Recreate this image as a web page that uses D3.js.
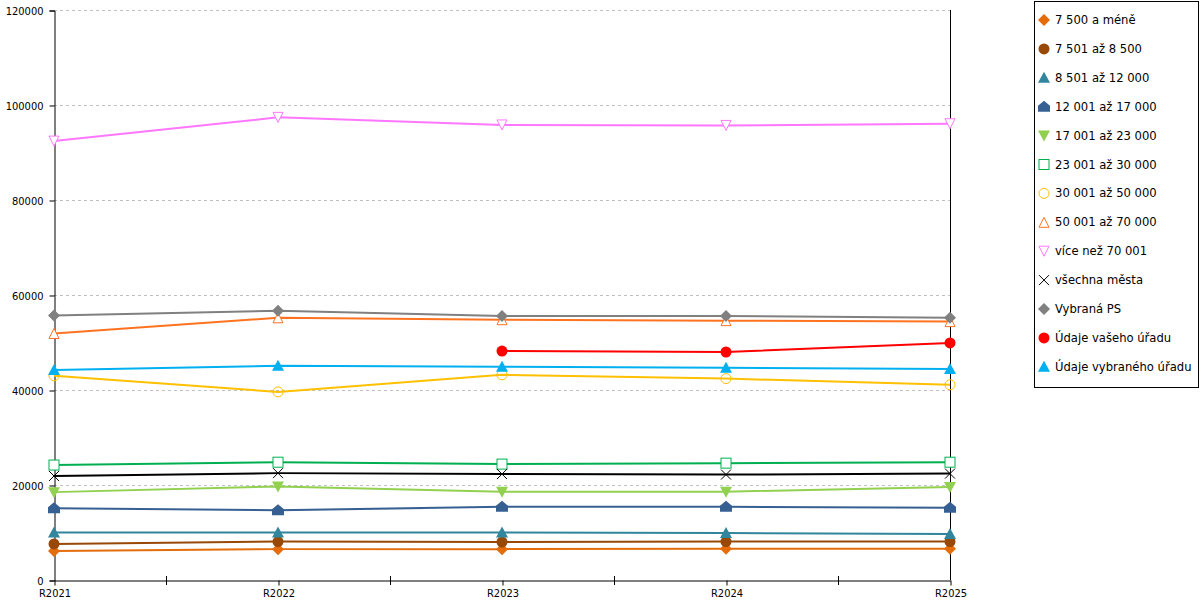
<!DOCTYPE html>
<html>
<head>
<meta charset="utf-8">
<script src="https://cdn.jsdelivr.net/npm/d3@7"></script>
<style>
  body { margin: 0; background: #fff; }
  text { font-family: "DejaVu Sans", sans-serif; font-size: 12px; fill: #000; }
  .axis text { font-family: "DejaVu Sans Condensed", "DejaVu Sans", sans-serif; }
</style>
</head>
<body>
<div id="chart"></div>
<script>
(function(){
const width = 1200;
  const height = 600;

  // data
  const years = ["R2021", "R2022", "R2023", "R2024", "R2025"];
  const seriesNames = ["7 500 a méně", "7 501 až 8 500", "8 501 až 12 000", "12 001 až 17 000",
    "17 001 až 23 000", "23 001 až 30 000", "30 001 až 50 000", "50 001 až 70 000",
    "více než 70 001", "všechna města", "Vybraná PS", "Údaje vašeho úřadu", "Údaje vybraného úřadu"];
  const v7500 = [6100, 6500, 6500, 6600, 6600];
  const v8500 = [7600, 8100, 8000, 8100, 8100];
  const v12000 = [10000, 10000, 10000, 9900, 9700];
  const v17000 = [15100, 14700, 15400, 15400, 15200];
  const v23000 = [18500, 19700, 18600, 18600, 19600];
  const v30000 = [24200, 24800, 24400, 24600, 24800];
  const v50000 = [43000, 39600, 43200, 42400, 41100];
  const v70000 = [51900, 55200, 54800, 54600, 54400];
  const vOver = [92400, 97400, 95800, 95700, 96050];
  const vAll = [21900, 22500, 22300, 22200, 22400];
  const vPS = [55700, 56700, 55600, 55600, 55200];
  const vOffice = [null, null, 48200, 48000, 49900];
  const vSelected = [44200, 45100, 44900, 44700, 44400];
  const yTicks = [0, 20000, 40000, 60000, 80000, 100000, 120000];

  const colors = ["#e46c0a", "#984807", "#31859c", "#376092", "#92d050", "#00b050", "#ffc000",
    "#ff7320", "#ff77ff", "#000000", "#808080", "#ff0000", "#00b0f0"];
  const shapes = ["diamond", "circle", "triangle", "house", "triangleDown", "square", "circleOpen",
    "triangleOpen", "triangleDownOpen", "cross", "diamond", "circle", "triangle"];
  const values = [v7500, v8500, v12000, v17000, v23000, v30000, v50000, v70000, vOver, vAll, vPS, vOffice, vSelected];

  const series = seriesNames.map((name, i) => ({ name, color: colors[i], shape: shapes[i], values: values[i] }));

  const margin = { left: 54, right: 250, top: 10, bottom: 20 };

  const svg = d3.select("#chart")
  .append("svg")
  .attr("width", width)
  .attr("height", height);

  const x = d3.scalePoint().domain(years).range([margin.left, width - margin.right]);
  const y = d3.scaleLinear().domain([0, 120000]).range([height - margin.bottom, margin.top]);

  // grid lines
  svg.append("g")
  .selectAll("line")
  .data(yTicks.filter(d => d > 0))
  .join("line")
  .attr("x1", margin.left)
  .attr("x2", width - margin.right)
  .attr("y1", d => y(d) + 0.5)
  .attr("y2", d => y(d) + 0.5)
  .attr("stroke", "#c0c0c0")
  .attr("stroke-dasharray", "3,3");

  // right frame line
  svg.append("line")
  .attr("x1", width - margin.right + 0.5)
  .attr("x2", width - margin.right + 0.5)
  .attr("y1", margin.top)
  .attr("y2", height - margin.bottom)
  .attr("stroke", "#000");

  // y axis
  const yAxis = svg.append("g")
  .attr("class", "axis")
  .attr("transform", `translate(${margin.left + 0.5},0.5)`)
  .call(d3.axisLeft(y).tickValues(yTicks).tickFormat(d3.format("d")).tickSize(5).tickPadding(6));
  yAxis.select(".domain").attr("stroke", "#000");
  yAxis.selectAll("text").style("font-size", "11px").attr("fill", "#000");

  // x axis
  const xAxis = svg.append("g")
  .attr("class", "axis")
  .attr("transform", `translate(0.5,${height - margin.bottom + 0.5})`)
  .call(d3.axisBottom(x).tickSize(5).tickSizeOuter(0).tickPadding(4));
  xAxis.select(".domain").attr("stroke", "#000");
  xAxis.selectAll("text").style("font-size", "11px").attr("fill", "#000");

  // minor ticks between the years
  const step = x.step();
  svg.append("g")
  .selectAll("line")
  .data(years.slice(0, -1))
  .join("line")
  .attr("x1", d => x(d) + step / 2 + 0.5)
  .attr("x2", d => x(d) + step / 2 + 0.5)
  .attr("y1", height - margin.bottom - 4)
  .attr("y2", height - margin.bottom + 5)
  .attr("stroke", "#000");

  function marker(g, shape, color) {
    const s = 5;
    if (shape === "diamond") {
      g.append("path").attr("d", `M0,${-s - 1}L${s + 1},0L0,${s + 1}L${-s - 1},0Z`).attr("fill", color);
    } else if (shape === "circle") {
      g.append("circle").attr("r", s + 0.5).attr("fill", color);
    } else if (shape === "circleOpen") {
      g.append("circle").attr("r", s).attr("fill", "none").attr("stroke", color);
    } else if (shape === "triangle") {
      g.append("path").attr("d", `M0,${-s - 1}L${s + 1},${s}L${-s - 1},${s}Z`).attr("fill", color);
    } else if (shape === "triangleOpen") {
      g.append("path").attr("d", `M0,${-s}L${s},${s}L${-s},${s}Z`).attr("fill", "#fff").attr("stroke", color);
    } else if (shape === "triangleDown") {
      g.append("path").attr("d", `M0,${s + 1}L${s + 1},${-s}L${-s - 1},${-s}Z`).attr("fill", color);
    } else if (shape === "triangleDownOpen") {
      g.append("path").attr("d", `M0,${s}L${s},${-s}L${-s},${-s}Z`).attr("fill", "#fff").attr("stroke", color);
    } else if (shape === "square") {
      g.append("rect").attr("x", -s).attr("y", -s).attr("width", 2 * s).attr("height", 2 * s)
      .attr("fill", "#fff").attr("stroke", color);
    } else if (shape === "house") {
      g.append("path").attr("d", `M0,${-s - 1}L${s + 1},${-1}L${s + 1},${s}L${-s - 1},${s}L${-s - 1},${-1}Z`).attr("fill", color);
    } else if (shape === "cross") {
      g.append("path").attr("d", `M${-s},${-s}L${s},${s}M${s},${-s}L${-s},${s}`).attr("stroke", color).attr("fill", "none");
    }
  }

  const line = d3.line()
  .defined(d => d.v != null)
  .x(d => x(d.year))
  .y(d => y(d.v));

  series.forEach(s => {
    const pts = years.map((year, i) => ({ year, v: s.values[i] }));
    svg.append("path")
    .datum(pts)
    .attr("d", line)
    .attr("fill", "none")
    .attr("stroke", s.color)
    .attr("stroke-width", 2);

    pts.filter(d => d.v != null).forEach(d => {
      const g = svg.append("g").attr("transform", `translate(${x(d.year)},${y(d.v)})`);
      marker(g, s.shape, s.color);
    });
  });

  // legend
  const legend = svg.append("g");
  legend.append("rect")
  .attr("x", 1034.5)
  .attr("y", 1.5)
  .attr("width", 164)
  .attr("height", 386)
  .attr("fill", "#fff")
  .attr("stroke", "#000");

  series.forEach((s, i) => {
    const cy = 20 + i * 28.9;
    const g = legend.append("g").attr("transform", `translate(1044,${cy})`);
    marker(g, s.shape, s.color);
    legend.append("text")
    .attr("x", 1055)
    .attr("y", cy)
    .attr("dy", "0.35em")
    .style("font-size", "11.6px")
    .text(s.name);
  });

  })();
</script>
</body>
</html>
